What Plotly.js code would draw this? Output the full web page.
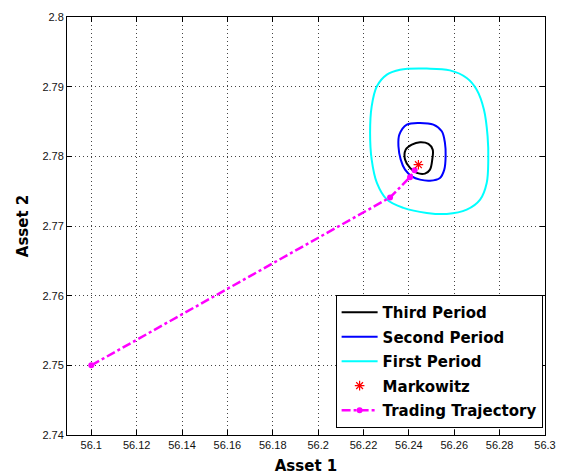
<!DOCTYPE html>
<html><head><meta charset="utf-8">
<script src="https://cdn.plot.ly/plotly-3.0.1.min.js"></script>
<style>html,body{margin:0;padding:0;background:#fff}#chart{width:568px;height:475px}</style>
</head><body><div id="chart"></div>
<script>
// Third period contour
const thirdX = [56.2413,56.2449,56.2486,56.2505,56.2503,56.2493,56.2471,56.2435,56.2405,56.2383,56.2386,56.2413];
const thirdY = [2.78168,2.78201,2.78178,2.78096,2.77953,2.77809,2.77752,2.77762,2.77834,2.77953,2.78096,2.78168];
// Second period contour
const secondX = [56.2391,56.2449,56.2508,56.2545,56.2559,56.2562,56.2556,56.2537,56.2493,56.2449,56.2413,56.2383,56.2364,56.2354,56.2358,56.2391];
const secondY = [2.78455,2.78479,2.78455,2.78359,2.78192,2.78000,2.77809,2.77690,2.77651,2.77666,2.77713,2.77809,2.77953,2.78144,2.78311,2.78455];
// First period contour
const firstX = [56.2361,56.2479,56.2581,56.2655,56.2699,56.2731,56.2747,56.2750,56.2743,56.2714,56.2655,56.2567,56.2479,56.2376,56.2303,56.2259,56.2236,56.2229,56.2236,56.2259,56.2303,56.2361];
const firstY = [2.79244,2.79259,2.79234,2.79125,2.78957,2.78670,2.78287,2.77953,2.77618,2.77379,2.77235,2.77173,2.77188,2.77260,2.77379,2.77618,2.77953,2.78336,2.78718,2.79005,2.79172,2.79244];
// Markowitz point
const markX = [56.2442];
const markY = [2.7788];
// Trading trajectory
const trajX = [56.1, 56.2317, 56.2405, 56.2425];
const trajY = [2.75, 2.7741, 2.7770, 2.7780];
// Tick values
const xTicks = [56.1,56.12,56.14,56.16,56.18,56.2,56.22,56.24,56.26,56.28,56.3];
const xTickText = ['56.1','56.12','56.14','56.16','56.18','56.2','56.22','56.24','56.26','56.28','56.3'];
const yTicks = [2.74,2.75,2.76,2.77,2.78,2.79,2.8];
const yTickText = ['2.74','2.75','2.76','2.77','2.78','2.79','2.8'];

const traces = [
  {x: thirdX, y: thirdY, mode:'lines', name:'<b>Third Period</b>', legendgroup:'a', legendrank:1,
   line:{color:'#000000', width:2, shape:'spline', smoothing:1}},
  {x: secondX, y: secondY, mode:'lines', name:'<b>Second Period</b>', legendgroup:'b', legendrank:2,
   line:{color:'#0000ff', width:2, shape:'spline', smoothing:1}},
  {x: firstX, y: firstY, mode:'lines', name:'<b>First Period</b>', legendgroup:'c', legendrank:3,
   line:{color:'#00ffff', width:2, shape:'spline', smoothing:1}},
  {x: trajX, y: trajY, mode:'lines+markers', name:'<b>Trading Trajectory</b>', legendgroup:'e', legendrank:5,
   line:{color:'#ff00ff', width:2.5, dash:'dashdot'}, marker:{color:'#ff00ff', size:6, symbol:'circle'}},
  {x: markX, y: markY, mode:'markers', name:'<b>Markowitz</b>', legendgroup:'d', legendrank:4,
   marker:{color:'#ff0000', size:8, symbol:'asterisk-open', line:{color:'#ff0000', width:1.2}}}
];

const axisCommon = {
  showline:true, linecolor:'#000', linewidth:1, mirror:'ticks',
  ticks:'inside', ticklen:5, tickcolor:'#000',
  showgrid:true, gridcolor:'#444', griddash:'1px,3px', gridwidth:1,
  zeroline:false, tickfont:{family:'Liberation Sans, Arial, sans-serif', size:11, color:'#111'}
};

const layout = {
  width:568, height:475,
  margin:{l:67, r:23, t:17, b:40},
  paper_bgcolor:'#fff', plot_bgcolor:'#fff',
  showlegend:true,
  xaxis: Object.assign({}, axisCommon, {
    range:[56.0893, 56.3], tickvals:xTicks, ticktext:xTickText,
    title:{text:'<b>Asset 1</b>', font:{family:'DejaVu Sans, sans-serif', size:15, color:'#000'}, standoff:11}
  }),
  yaxis: Object.assign({}, axisCommon, {
    range:[2.74, 2.8], tickvals:yTicks, ticktext:yTickText,
    title:{text:'<b>Asset 2</b>', font:{family:'DejaVu Sans, sans-serif', size:15, color:'#000'}, standoff:10}
  }),
  legend:{
    x:0.995, y:0.017, xanchor:'right', yanchor:'bottom',
    bgcolor:'#fff', bordercolor:'#000', borderwidth:1,
    traceorder:'grouped', tracegroupgap:2,
    font:{family:'DejaVu Sans, sans-serif', size:15, color:'#000'},
    itemwidth:36
  }
};

Plotly.newPlot('chart', traces, layout, {displayModeBar:false, staticPlot:true});
</script></body></html>
